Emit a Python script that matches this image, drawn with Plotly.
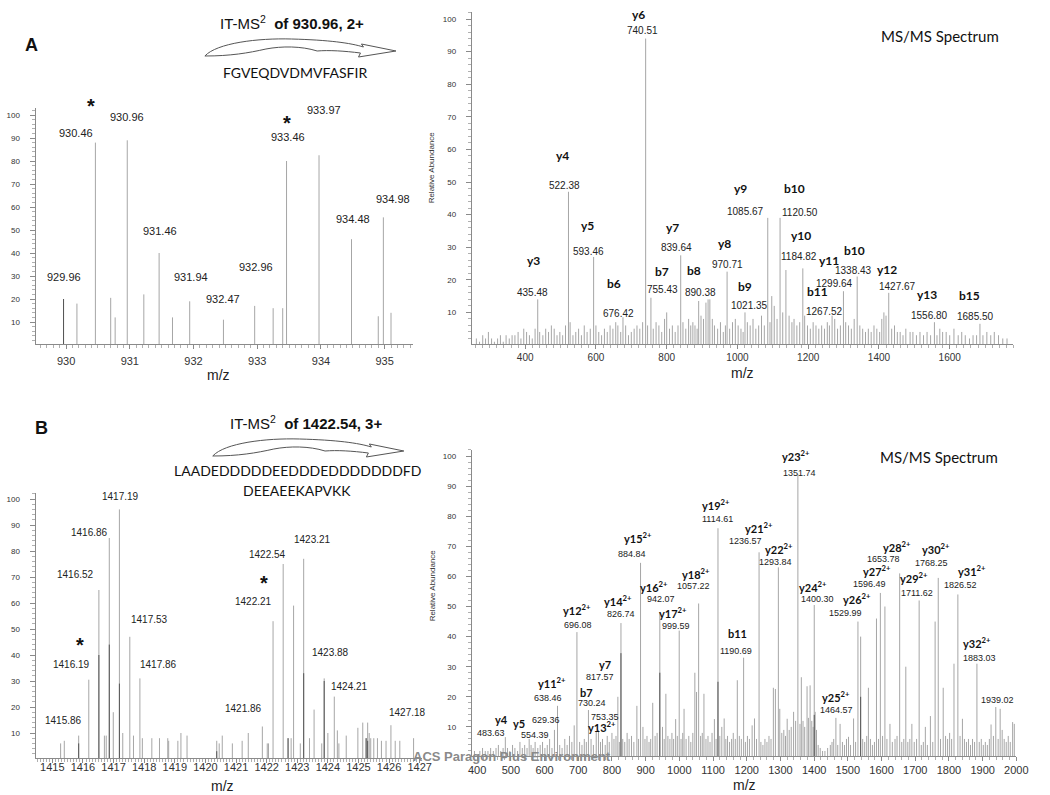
import plotly.graph_objects as go

W, H = 1050, 795

# ---------------- Panel A, left: precursor isotope cluster ----------------
A1_mz = [929.96, 930.46, 930.96, 931.46, 931.94, 932.47, 932.96, 933.46, 933.97, 934.48, 934.98]
A1_int = [20, 88, 89, 40, 19, 11, 17, 80, 82.5, 46, 55.5]
A1_minor = [(930.17, 18), (930.70, 20.5), (930.77, 12), (931.22, 22), (931.67, 12),
            (933.25, 16), (933.40, 16), (934.90, 12.5), (935.10, 14)]
A1_dark = [(929.96, 20)]

# ---------------- Panel A, right: MS/MS ----------------
A2_mz = [435.48, 522.38, 593.46, 676.42, 740.51, 755.43, 839.64, 890.38, 970.71, 1021.35,
         1085.67, 1120.50, 1184.82, 1267.52, 1299.64, 1338.43, 1427.67, 1556.80, 1685.50]
A2_int = [14, 47, 27, 8.5, 94, 14.5, 27.5, 13.5, 22.5, 10, 39, 39, 23.5, 9, 16.5, 21, 16, 7, 6.5]
A2_ion = ['y3', 'y4', 'y5', 'b6', 'y6', 'b7', 'y7', 'b8', 'y8', 'b9',
          'y9', 'b10', 'y10', 'b11', 'y11', 'b10', 'y12', 'y13', 'b15']
A2_minor = [(262, 2), (271, 1), (280, 3), (288, 2), (296, 4), (305, 2), (313, 1), (322, 2), (330, 3),
            (338, 1), (346, 3), (355, 2), (363, 3), (371, 3), (380, 4), (388, 2), (396, 5), (404, 4),
            (412, 3), (420, 2), (428, 5), (441, 4), (450, 3), (458, 5), (466, 4), (474, 6), (482, 5),
            (490, 3), (498, 4), (506, 3), (514, 6), (527, 7), (535, 3), (543, 4), (551, 5), (559, 3),
            (567, 6), (575, 4), (584, 5), (600, 6), (608, 4), (616, 3), (624, 5), (632, 4), (640, 6),
            (648, 5), (656, 7), (662, 6), (670, 4), (684, 6), (692, 3), (700, 4), (708, 5), (716, 6),
            (724, 5), (732, 7), (746, 6), (762, 5), (770, 7), (778, 6), (786, 4), (794, 8), (800, 10),
            (808, 5), (816, 6), (824, 4), (832, 6), (846, 7), (854, 5), (862, 8), (868, 6), (874, 7),
            (880, 6), (886, 5), (897, 9), (904, 8), (911, 13), (917, 14), (922, 14), (929, 8), (935, 6),
            (944, 5), (952, 7), (960, 4), (966, 6), (978, 5), (986, 7), (994, 8), (1002, 6), (1010, 5),
            (1016, 4), (1028, 7), (1036, 6), (1044, 8), (1052, 5), (1060, 6), (1068, 9), (1076, 6),
            (1092, 7), (1097, 15), (1104, 12), (1112, 8), (1128, 10), (1137, 23), (1146, 9), (1154, 7),
            (1160, 8), (1168, 6), (1176, 7), (1190, 9), (1198, 6), (1206, 5), (1214, 7), (1222, 6),
            (1230, 5), (1238, 6), (1246, 5), (1254, 7), (1260, 6), (1275, 8), (1283, 5), (1291, 6),
            (1306, 7), (1314, 6), (1322, 5), (1330, 8), (1346, 6), (1354, 5), (1362, 4), (1370, 5),
            (1378, 4), (1386, 6), (1394, 5), (1402, 4), (1408, 8), (1414, 10), (1420, 9), (1436, 5),
            (1444, 6), (1452, 4), (1460, 4), (1468, 3), (1476, 5), (1488, 4), (1496, 4), (1506, 3),
            (1516, 4), (1526, 3), (1536, 4), (1546, 3), (1564, 3), (1572, 5), (1580, 4), (1590, 4),
            (1600, 3), (1612, 5), (1624, 3), (1634, 4), (1644, 3), (1656, 2), (1666, 3), (1676, 3),
            (1694, 3), (1705, 4), (1716, 3), (1726, 4), (1738, 3), (1750, 2), (1762, 2)]

# ---------------- Panel B, left: precursor isotope cluster ----------------
B1_mz = [1415.86, 1416.19, 1416.52, 1416.86, 1417.19, 1417.53, 1417.86,
         1421.86, 1422.21, 1422.54, 1423.21, 1423.88, 1424.21, 1427.18]
B1_int = [9, 30.5, 65, 85, 96, 47, 31, 12.5, 53, 75, 77, 31, 24, 9]
B1_minor = [(1415.27, 6), (1415.39, 7), (1416.70, 9), (1416.76, 9), (1416.99, 18), (1417.30, 10),
            (1417.65, 9), (1417.94, 8), (1418.25, 8), (1418.50, 8), (1418.77, 8), (1418.80, 7),
            (1419.10, 7), (1419.20, 10), (1419.40, 9), (1420.37, 7), (1420.45, 6), (1420.55, 9),
            (1420.88, 6), (1421.20, 7), (1421.40, 10), (1422.02, 6), (1422.06, 6), (1422.70, 8),
            (1422.80, 8), (1422.88, 59), (1423.10, 6), (1423.40, 8), (1423.55, 19), (1423.80, 6),
            (1424.00, 10), (1424.31, 11), (1424.36, 6), (1424.60, 9), (1424.98, 12), (1425.14, 14),
            (1425.25, 8), (1425.30, 14), (1425.35, 10), (1425.40, 8), (1425.50, 8), (1425.62, 8),
            (1425.75, 7), (1425.90, 7), (1426.06, 13), (1426.20, 7), (1426.35, 7), (1426.80, 8)]
B1_dark = [(1415.86, 6), (1416.52, 40), (1416.86, 44), (1417.19, 29), (1420.37, 3), (1422.70, 8),
           (1423.21, 33), (1423.88, 30), (1425.25, 8), (1425.30, 7)]

# ---------------- Panel B, right: MS/MS ----------------
B2_mz = [483.63, 554.39, 629.36, 638.46, 696.08, 730.24, 753.35, 817.57, 826.74, 884.84,
         942.07, 999.59, 1057.22, 1114.61, 1190.69, 1236.57, 1293.84, 1351.74, 1400.30, 1464.57,
         1529.99, 1596.49, 1653.78, 1711.62, 1768.25, 1826.52, 1883.03, 1939.02]
B2_int = [6.6, 6, 9, 17, 41.5, 15.6, 8.3, 20, 44.5, 64.5, 48, 42, 51, 76, 33, 68, 63, 94, 50.5, 13,
          45, 54.5, 61, 52, 59.5, 54, 31, 16.6]
B2_ion = ['y4', 'y5', '', 'y11<sup>2+</sup>', 'y12<sup>2+</sup>', 'b7', 'y13<sup>2+</sup>', 'y7',
          'y14<sup>2+</sup>', 'y15<sup>2+</sup>', 'y16<sup>2+</sup>', 'y17<sup>2+</sup>',
          'y18<sup>2+</sup>', 'y19<sup>2+</sup>', 'b11', 'y21<sup>2+</sup>', 'y22<sup>2+</sup>',
          'y23<sup>2+</sup>', 'y24<sup>2+</sup>', 'y25<sup>2+</sup>', 'y26<sup>2+</sup>',
          'y27<sup>2+</sup>', 'y28<sup>2+</sup>', 'y29<sup>2+</sup>', 'y30<sup>2+</sup>',
          'y31<sup>2+</sup>', 'y32<sup>2+</sup>', '']
B2_minor = [(392, 2), (400, 1), (408, 2), (416, 3), (424, 2), (432, 2), (440, 3), (448, 2), (456, 3),
            (463, 4), (470, 2), (477, 3), (490, 3), (497, 2), (505, 4), (512, 3), (520, 2), (527, 5),
            (534, 3), (541, 4), (548, 3), (560, 4), (566, 3), (572, 5), (580, 3), (587, 4), (594, 5),
            (601, 3), (608, 4), (615, 6), (622, 3), (645, 4), (652, 3), (660, 6), (667, 4), (674, 7),
            (681, 5), (688, 10.5), (704, 5), (711, 4), (718, 6), (724, 5), (738, 6), (745, 4), (760, 9),
            (766, 5), (772, 6), (780, 4), (786, 7), (792, 5), (800, 8), (806, 6), (812, 7), (822, 5),
            (832, 6), (838, 5), (845, 8), (851, 6), (858, 7), (865, 5), (874, 17), (879, 6), (892, 10),
            (898, 6), (904, 7), (910, 5), (915, 6), (921, 18), (928, 7), (934, 8), (950, 10), (955, 6),
            (960, 21), (966, 7), (972, 6), (978, 8), (983, 6), (989, 12.6), (994, 7), (1005, 6),
            (1010, 8), (1014, 16), (1020, 6), (1028, 7), (1034, 5), (1040, 8), (1046, 28), (1051, 21.6),
            (1063, 7), (1068, 8), (1073, 21), (1079, 6), (1085, 7), (1091, 5), (1097, 8), (1104, 12.6),
            (1109, 6), (1120, 7), (1126, 10), (1133, 12.8), (1138, 6), (1143, 7), (1149, 5), (1155, 6),
            (1160, 8), (1166, 6), (1172, 25.5), (1178, 7), (1184, 6), (1196, 5), (1202, 7), (1208, 6),
            (1216, 10.5), (1223, 12.8), (1229, 6), (1242, 5), (1248, 4), (1254, 6), (1260, 5), (1266, 7),
            (1272, 6), (1279, 23), (1285, 22.6), (1298, 16), (1304, 8), (1310, 9), (1315, 7),
            (1320, 12.7), (1326, 9), (1332, 10), (1339, 15), (1345, 12), (1358, 11), (1362, 26.5),
            (1367, 12), (1372, 10), (1379, 23.5), (1383, 13), (1388, 23.8), (1393, 12), (1397, 10),
            (1403, 15), (1407, 9), (1412, 4), (1418, 3), (1425, 2), (1432, 2), (1440, 3), (1448, 4),
            (1453, 5), (1458, 6), (1470, 4), (1477, 11), (1484, 5), (1490, 4), (1496, 6), (1502, 6.7),
            (1508, 4), (1517, 12.8), (1523, 5), (1538, 40), (1544, 6), (1550, 5), (1556, 7), (1561, 23),
            (1567, 6), (1573, 4), (1579, 5), (1585, 46), (1591, 6), (1603, 7), (1610, 50), (1616, 6),
            (1625, 11), (1632, 5), (1640, 6), (1646, 7), (1660, 5), (1666, 6), (1672, 30), (1678, 5),
            (1684, 6), (1690, 11), (1697, 5), (1704, 6), (1718, 4), (1724, 5), (1730, 10), (1736, 4),
            (1745, 13.6), (1752, 5), (1759, 45), (1775, 6), (1783, 23), (1790, 7), (1796, 6), (1802, 8),
            (1808, 6), (1815, 31), (1833, 7), (1840, 12.7), (1846, 6), (1852, 5), (1858, 6), (1864, 4),
            (1870, 6), (1876, 5), (1890, 5), (1896, 6), (1902, 4), (1908, 5), (1914, 4), (1920, 6),
            (1925, 10.8), (1932, 7), (1946, 6), (1952, 16), (1958, 9), (1964, 6), (1970, 5), (1976, 7),
            (1982, 5), (1989, 11.6), (1994, 11)]
B2_dark = [(826.74, 34.5), (942.07, 28), (1114.61, 25), (1400.30, 14), (1538, 20)]

# ---------------- label placement (layout, data units) ----------------
A1_val_pos = [(929.97, 29.6), (930.15, 92), (930.96, 99), (931.47, 49.6), (931.96, 29.6), (932.47, 20),
              (932.98, 34), (933.48, 90.4), (934.05, 102), (934.5, 54.8), (935.13, 63.5)]
A1_star_pos = [(930.39, 102.8, 3), (933.47, 96.5, 0)]
A2_ion_pos = [(424, 26), (505, 58), (575, 36.8), (650, 19), (720, 101.5), (787, 22.7), (817, 36),
              (876, 23), (964, 31), (1020, 18), (1009, 48), (1162, 48), (1179, 33.7), (1226, 16.3),
              (1260, 26), (1332, 29), (1424, 23.3), (1535, 15.6), (1655, 15.3)]
A2_val_pos = [(421, 16), (510, 49), (580, 28.8), (664, 9.8), (733, 96.6), (787, 17), (828, 29.8),
              (895, 16), (973, 24.8), (1034, 12), (1023, 40.8), (1176, 40.5), (1173, 27.3),
              (1245, 10.4), (1273, 19), (1329, 23), (1452, 17.8), (1543, 9.2), (1672, 8.6)]
B1_val_pos = [(1415.35, 15), (1415.64, 36.5), (1415.74, 70.8), (1416.22, 87.3), (1417.22, 100.8),
              (1418.18, 53.5), (1418.47, 36.5), (1421.24, 19.6), (1421.56, 60.4), (1422.04, 78.8),
              (1423.49, 84.6), (1424.09, 40.8), (1424.71, 27.7), (1426.6, 18)]
B1_star_pos = [(1415.9, 44, 0), (1421.9, 67.7, 0)]
B2_ion_pos = [(472, 12.6), (525, 11), None, (623, 24.6), (696, 49), (723, 21.3), (769, 10), (778, 30.6),
              (819, 52), (877, 72.8), (924, 56.8), (980, 48), (1049, 61), (1108, 84), (1172, 40.9),
              (1236, 76.4), (1295, 69.4), (1347, 100.3), (1397, 56.8), (1464, 20), (1528, 52.5),
              (1587, 61.8), (1645, 69.8), (1695, 59.5), (1762, 69.4), (1867, 62), (1882, 38.2), None]
B2_val_pos = [(440, 8), (571, 7.3), (603, 12.3), (609, 19.6), (699, 43.8), (740, 17.9), (778, 13.3),
              (764, 26.6), (828, 47.5), (860, 67.4), (947, 52.5), (991, 43.5), (1041, 56.8), (1114, 79),
              (1167, 35.2), (1196, 71.8), (1284, 64.8), (1357, 94.4), (1409, 52.5), (1467, 15.6),
              (1493, 47.8), (1564, 57.5), (1607, 65.8), (1704, 54.5), (1748, 64.5), (1835, 57.1),
              (1890, 32.9), (1943, 18.9)]

GRAY = '#a6a6a6'
DARK = '#555555'


def stems(pairs):
    xs, ys = [], []
    for m, v in pairs:
        xs += [m, m, None]
        ys += [0, v, None]
    return xs, ys


fig = go.Figure()


def add_spectrum(n, main_mz, main_int, minor, dark):
    suffix = '' if n == 1 else str(n)
    for pairs, col in [(minor, GRAY), (list(zip(main_mz, main_int)), GRAY), (dark, DARK)]:
        xs, ys = stems(pairs)
        fig.add_trace(go.Scatter(x=xs, y=ys, mode='lines', line=dict(color=col, width=1),
                                 xaxis='x' + suffix, yaxis='y' + suffix, hoverinfo='skip',
                                 showlegend=False))


add_spectrum(1, A1_mz, A1_int, A1_minor, A1_dark)
add_spectrum(2, A2_mz, A2_int, A2_minor, [])
add_spectrum(3, B1_mz, B1_int, B1_minor, B1_dark)
add_spectrum(4, B2_mz, B2_int, B2_minor, B2_dark)

AX = '#8a8a8a'


def axes(n, xpx, xrange, base_py, ppu, ymax, xdtick, xtick0, xminor, xfs, yfs, xstand):
    ymin = 0.3
    xd = [xpx[0] / W, xpx[1] / W]
    yd = [1 - (base_py - ymin * ppu) / H, 1 - (base_py - ymax * ppu) / H]
    suffix = '' if n == 1 else str(n)
    xa = dict(domain=xd, range=xrange, anchor='y' + suffix, showline=True, linecolor=AX, linewidth=1,
              ticks='outside', ticklen=4, tickcolor=AX, dtick=xdtick, tick0=xtick0, showgrid=False,
              zeroline=False, ticklabelstandoff=xstand,
              tickfont=dict(family='Arial', size=xfs, color='#333'),
              minor=dict(dtick=xminor, tick0=xtick0, ticks='outside', ticklen=3, tickcolor='#b0b0b0',
                         showgrid=False))
    ya = dict(domain=yd, range=[ymin, ymax], anchor='x' + suffix, showline=True, linecolor=AX,
              linewidth=1, ticks='outside', ticklen=5, tickcolor=AX, dtick=10, tick0=0,
              showgrid=False, zeroline=False, ticklabelstandoff=8,
              tickfont=dict(family='Arial', size=yfs, color='#333'),
              minor=dict(dtick=2, tick0=0, ticks='outside', ticklen=3, tickcolor='#b0b0b0',
                         showgrid=False))
    return {'xaxis' + suffix: xa, 'yaxis' + suffix: ya}


lay = {}
lay.update(axes(1, (32, 415), [929.52, 935.44], 345, 2.3, 103, 1, 930, 0.1, 11, 8, 2))
lay.update(axes(2, (475, 1025), [249, 1780], 345, 3.26, 102, 200, 0, 20, 10, 8, 0))
lay.update(axes(3, (32, 424), [1414.45, 1427.06], 759, 2.6, 102.5, 1, 1415, 0.1, 11, 8, -5))
lay.update(axes(4, (475, 1028), [384, 2000], 757, 3.01, 102, 100, 0, 20, 11, 8, 0))

ann = []


def A(text, x, y, n=None, size=11, family='Arial', color='#222', **kw):
    if n is None:
        d = dict(xref='paper', yref='paper', x=x / W, y=1 - y / H)
    else:
        s = '' if n == 1 else str(n)
        d = dict(xref='x' + s, yref='y' + s, x=x, y=y)
    d.update(text=text, showarrow=False, font=dict(family=family, size=size, color=color),
             xanchor='center', yanchor='middle')
    d.update(kw)
    ann.append(d)


# value labels
for m, (x, y) in zip(A1_mz, A1_val_pos):
    A(f'{m:.2f}', x, y, 1, size=11)
for (x, y, sh) in A1_star_pos:
    A('<b>*</b>', x, y, 1, size=20, color='#111', yshift=sh)
for m, ion, (x, y), (ix, iy) in zip(A2_mz, A2_ion, A2_val_pos, A2_ion_pos):
    A(f'{m:.2f}', x, y, 2, size=10)
    A(f'<b>{ion}</b>', ix, iy, 2, size=12, family='Lato', color='#111')
for m, (x, y) in zip(B1_mz, B1_val_pos):
    A(f'{m:.2f}', x, y, 3, size=10)
for (x, y, sh) in B1_star_pos:
    A('<b>*</b>', x, y, 3, size=20, color='#111', yshift=sh)
for m, ion, (x, y), ip in zip(B2_mz, B2_ion, B2_val_pos, B2_ion_pos):
    A(f'{m:.2f}', x, y, 4, size=9)
    if ip is not None:
        A(f'<b>{ion}</b>', ip[0], ip[1], 4, size=11, family='Lato', color='#111')

# titles and decorations
A('<b>A</b>', 28, 45, size=18, color='#111')
A('<b>B</b>', 38, 428, size=18, color='#111')
A('IT-MS<sup>2</sup>  <b>of 930.96, 2+</b>', 292, 23, size=15, color='#111')
A('FGVEQDVDMVFASFIR', 295, 73, size=14, family='Lato', color='#111')
A('MS/MS Spectrum', 950, 36, size=15, family='Lato', color='#111')
A('IT-MS<sup>2</sup>  <b>of 1422.54, 3+</b>', 307, 422, size=15, color='#111')
A('LAADEDDDDDEEDDDEDDDDDDDFD', 298, 470, size=14, family='Lato', color='#111')
A('DEEAEEKAPVKK', 298, 490, size=14, family='Lato', color='#111')
A('MS/MS Spectrum', 949, 457, size=15, family='Lato', color='#111')
A('m/z', 218, 375, size=14, color='#222')
A('m/z', 750, 373, size=14, color='#222')
A('m/z', 222, 786, size=14, color='#222')
A('m/z', 752, 785, size=14, color='#222')
A('Relative Abundance', 435, 167, size=8, color='#333', textangle=-90)
A('Relative Abundance', 435, 585, size=8, color='#333', textangle=-90)
A('<b>ACS Paragon Plus Environment</b>', 516, 756, size=13, color='#8a8a8a')

# curved arrows (pixel layout -> paper)
ARROW = [('M', [(204, 56)]), ('C', [(216, 43), (258, 38), (292, 39)]),
         ('C', [(330, 40), (352, 43), (365, 47)]), ('L', [(363, 44)]), ('L', [(398, 51)]),
         ('L', [(360, 57)]), ('L', [(362, 53)]), ('C', [(346, 51), (330, 50), (318, 51)]),
         ('C', [(302, 46), (282, 46), (266, 49)]), ('C', [(248, 53), (230, 56), (204, 56)]), ('Z', [])]


def arrow_path(dx, dy):
    parts = []
    for cmd, pts in ARROW:
        s = cmd
        s += ' '.join(f'{(px + dx) / W:.5f},{1 - (py + dy) / H:.5f}' for px, py in pts)
        parts.append(s)
    return ' '.join(parts)


shapes = [dict(type='path', xref='paper', yref='paper', path=arrow_path(0, 0),
               line=dict(color='#555', width=1), fillcolor='white'),
          dict(type='path', xref='paper', yref='paper', path=arrow_path(8, 400),
               line=dict(color='#555', width=1), fillcolor='white')]

fig.update_layout(width=W, height=H, margin=dict(l=0, r=0, t=0, b=0), paper_bgcolor='white',
                  plot_bgcolor='white', showlegend=False, annotations=ann, shapes=shapes, **lay)

fig.write_html('out.html', config={'displayModeBar': False},
               post_script="document.body.style.margin='0px';document.body.style.overflow='hidden';")
